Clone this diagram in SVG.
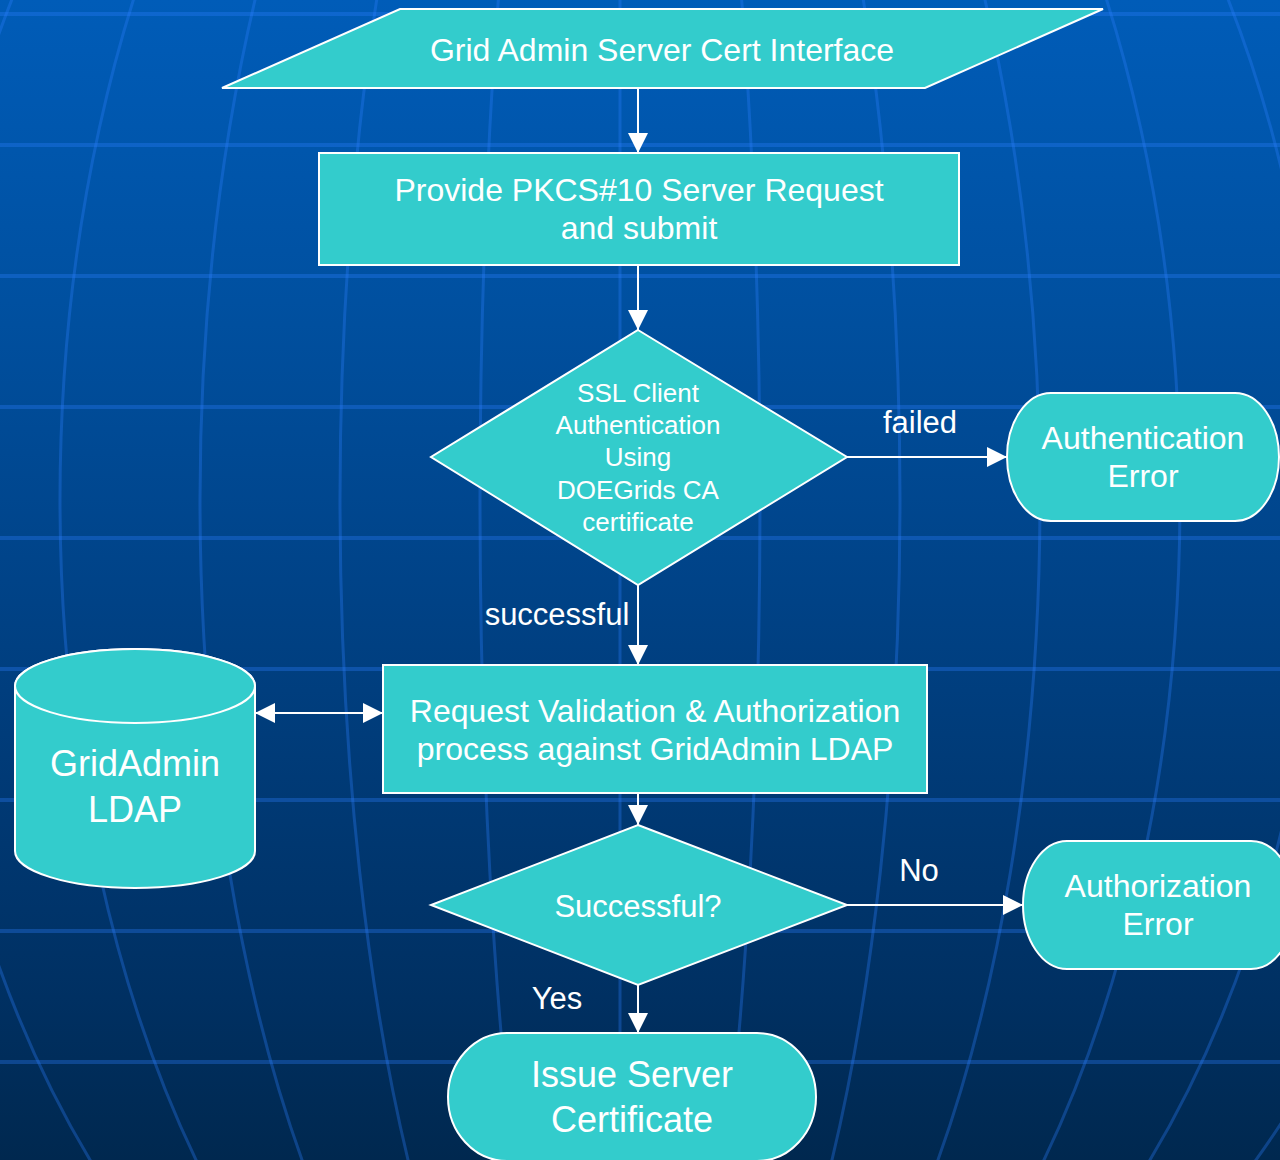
<svg xmlns="http://www.w3.org/2000/svg" width="1280" height="1160" viewBox="0 0 1280 1160">
  <defs>
    <linearGradient id="bg" x1="0" y1="0" x2="0" y2="1">
      <stop offset="0" stop-color="#005cb8"/>
      <stop offset="0.26" stop-color="#0050a0"/>
      <stop offset="0.5" stop-color="#004388"/>
      <stop offset="0.86" stop-color="#003062"/>
      <stop offset="1" stop-color="#00284f"/>
    </linearGradient>
    <marker id="arr" markerUnits="userSpaceOnUse" markerWidth="20" markerHeight="20" refX="20" refY="10" orient="auto-start-reverse">
      <path d="M0,0 L20,10 L0,20 Z" fill="#ffffff"/>
    </marker>
    <style>
      .node { fill: #33cccc; stroke: #ffffff; stroke-width: 2; }
      .t { fill: #ffffff; font-family: "Liberation Sans", Arial, sans-serif; text-anchor: middle; }
      .conn { stroke: #ffffff; stroke-width: 2; fill: none; }
      .grid { stroke: #2a80ff; stroke-opacity: 0.32; fill: none; }
    </style>
  </defs>

  <g id="background">
    <rect x="0" y="0" width="1280" height="1160" fill="url(#bg)"/>
    <g class="grid" stroke-width="4">
      <line x1="0" y1="14" x2="1280" y2="14"/>
      <line x1="0" y1="145" x2="1280" y2="145"/>
      <line x1="0" y1="276" x2="1280" y2="276"/>
      <line x1="0" y1="407" x2="1280" y2="407"/>
      <line x1="0" y1="538" x2="1280" y2="538"/>
      <line x1="0" y1="669" x2="1280" y2="669"/>
      <line x1="0" y1="800" x2="1280" y2="800"/>
      <line x1="0" y1="931" x2="1280" y2="931"/>
      <line x1="0" y1="1062" x2="1280" y2="1062"/>
    </g>
    <g class="grid" stroke-width="3">
      <line x1="620" y1="0" x2="620" y2="1160"/>
      <ellipse cx="620" cy="500" rx="140" ry="1010"/>
      <ellipse cx="620" cy="500" rx="280" ry="1010"/>
      <ellipse cx="620" cy="500" rx="420" ry="1010"/>
      <ellipse cx="620" cy="500" rx="560" ry="1010"/>
      <ellipse cx="620" cy="500" rx="700" ry="1010"/>
      <ellipse cx="620" cy="500" rx="840" ry="1010"/>
    </g>
  </g>

  <g id="connectors">
    <line class="conn" x1="638" y1="88" x2="638" y2="153" marker-end="url(#arr)"/>
    <line class="conn" x1="638" y1="265" x2="638" y2="330" marker-end="url(#arr)"/>
    <line class="conn" x1="847" y1="457" x2="1007" y2="457" marker-end="url(#arr)"/>
    <line class="conn" x1="638" y1="585" x2="638" y2="665" marker-end="url(#arr)"/>
    <line class="conn" x1="255" y1="713" x2="383" y2="713" marker-start="url(#arr)" marker-end="url(#arr)"/>
    <line class="conn" x1="638" y1="793" x2="638" y2="825" marker-end="url(#arr)"/>
    <line class="conn" x1="847" y1="905" x2="1023" y2="905" marker-end="url(#arr)"/>
    <line class="conn" x1="638" y1="985" x2="638" y2="1033" marker-end="url(#arr)"/>
    <text class="t" x="920" y="433" font-size="31">failed</text>
    <text class="t" x="557" y="625" font-size="31">successful</text>
    <text class="t" x="919" y="881" font-size="31">No</text>
    <text class="t" x="557" y="1009" font-size="31">Yes</text>
  </g>

  <g id="interface">
    <polygon class="node" points="400,9 1103,9 925,88 222,88"/>
    <text class="t" x="662" y="61" font-size="32">Grid Admin Server Cert Interface</text>
  </g>

  <g id="provide">
    <rect class="node" x="319" y="153" width="640" height="112"/>
    <text class="t" x="639" y="201" font-size="32">Provide PKCS#10 Server Request</text>
    <text class="t" x="639" y="239" font-size="32">and submit</text>
  </g>

  <g id="ssl-auth">
    <polygon class="node" points="638,330 847,457 638,585 431,457"/>
    <text class="t" x="638" y="402" font-size="26">SSL Client</text>
    <text class="t" x="638" y="434" font-size="26">Authentication</text>
    <text class="t" x="638" y="466" font-size="26">Using</text>
    <text class="t" x="638" y="499" font-size="26">DOEGrids CA</text>
    <text class="t" x="638" y="531" font-size="26">certificate</text>
  </g>

  <g id="auth-error">
    <rect class="node" x="1007" y="393" width="272" height="128" rx="44" ry="64"/>
    <text class="t" x="1143" y="449" font-size="32">Authentication</text>
    <text class="t" x="1143" y="487" font-size="32">Error</text>
  </g>

  <g id="ldap">
    <path class="node" d="M15,686 L15,851 A120,37 0 0 0 255,851 L255,686 A120,37 0 0 0 15,686 Z"/>
    <ellipse class="node" cx="135" cy="686" rx="120" ry="37"/>
    <text class="t" x="135" y="776" font-size="36">GridAdmin</text>
    <text class="t" x="135" y="822" font-size="36">LDAP</text>
  </g>

  <g id="validation">
    <rect class="node" x="383" y="665" width="544" height="128"/>
    <text class="t" x="655" y="722" font-size="32">Request Validation &amp; Authorization</text>
    <text class="t" x="655" y="760" font-size="32">process against GridAdmin LDAP</text>
  </g>

  <g id="successful">
    <polygon class="node" points="638,825 847,905 638,985 431,905"/>
    <text class="t" x="638" y="917" font-size="31">Successful?</text>
  </g>

  <g id="authz-error">
    <rect class="node" x="1023" y="841" width="272" height="128" rx="44" ry="64"/>
    <text class="t" x="1158" y="897" font-size="32">Authorization</text>
    <text class="t" x="1158" y="935" font-size="32">Error</text>
  </g>

  <g id="issue">
    <rect class="node" x="448" y="1033" width="368" height="128" rx="59" ry="64"/>
    <text class="t" x="632" y="1087" font-size="36">Issue Server</text>
    <text class="t" x="632" y="1132" font-size="36">Certificate</text>
  </g>
</svg>
